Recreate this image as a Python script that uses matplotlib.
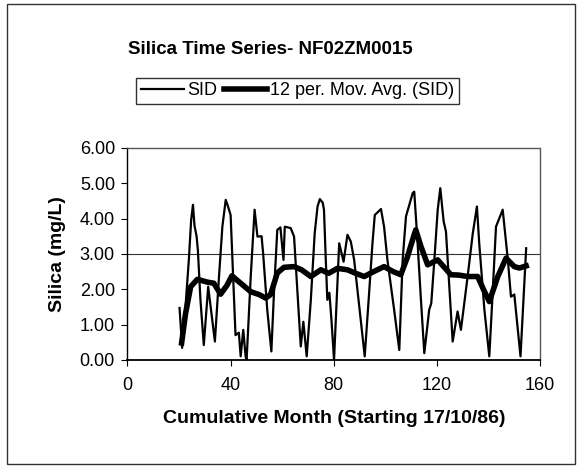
import matplotlib
matplotlib.use("Agg")
import matplotlib.pyplot as plt
from matplotlib.patches import Rectangle

plt.rcParams['font.family'] = ['Liberation Sans', 'DejaVu Sans']

# SID data (cumulative month, silica mg/L)
sid_x = [20.2, 21.2, 22.5, 23.8, 24.7, 25.4, 26.0, 26.8, 27.3, 28.3, 29.6,
         31.3, 33.9, 35.5, 36.8, 38.1, 39.0, 40.0, 41.9, 43.2, 43.9, 44.9,
         45.8, 46.2, 47.8, 49.3, 50.4, 52.0, 52.6, 54.2, 55.8, 56.8, 58.1,
         59.3, 60.5, 61.0, 63.3, 64.6, 67.2, 68.2, 69.5, 71.1, 72.6, 73.7,
         74.6, 75.7, 76.2, 76.9, 77.5, 78.3, 79.1, 80.1, 82.1, 83.8, 85.3,
         86.6, 87.9, 92.0, 93.7, 95.0, 95.9, 98.3, 99.5, 100.8, 103.4, 105.4,
         106.7, 108.0, 110.6, 111.2, 112.5, 113.8, 115.1, 117.0, 117.8, 119.0,
         120.3, 121.3, 122.6, 123.5, 126.1, 128.0, 129.3, 131.9, 133.9, 135.5,
         136.4, 138.4, 140.3, 141.6, 142.9, 145.5, 147.5, 148.7, 150.0, 152.4,
         154.6]
sid_y = [1.47, 0.34, 1.5, 2.83, 3.96, 4.39, 3.8, 3.5, 3.11, 1.7, 0.42,
         2.07, 0.52, 2.36, 3.77, 4.53, 4.34, 4.1, 0.7, 0.77, 0.1, 0.85,
         0.1, 0.0, 2.36, 4.25, 3.49, 3.5, 3.02, 1.42, 0.24, 1.89, 3.68,
         3.75, 2.83, 3.77, 3.73, 3.49, 0.38, 1.08, 0.1, 1.7, 3.58, 4.34,
         4.55, 4.45, 4.25, 2.83, 1.7, 1.9, 1.13, 0.0, 3.3, 2.78, 3.54,
         3.35, 2.83, 0.1, 1.89, 3.3, 4.1, 4.27, 3.77, 2.83, 1.42, 0.28,
         2.83, 4.06, 4.72, 4.76, 3.3, 1.7, 0.19, 1.42, 1.6, 2.83,
         4.25, 4.86, 3.92, 3.63, 0.52, 1.37, 0.85, 2.36, 3.58, 4.34,
         3.3, 1.42, 0.1, 1.89, 3.77, 4.25, 2.83, 1.79, 1.85, 0.1,
         3.16]

# 12 period moving average of SID
ma_x = [21.0, 22.5, 24.5, 27.1, 31.0, 33.5, 36.1, 38.5, 40.5, 43.9, 47.8,
        51.0, 53.6, 55.5, 58.1, 60.7, 64.6, 67.5, 71.1, 75.0, 78.0, 81.4,
        85.3, 88.5, 91.8, 95.5, 99.5, 103.0, 106.0, 108.5, 111.2, 111.8,
        113.8, 116.4, 120.3, 125.4, 128.5, 131.9, 135.8, 138.0, 140.3, 143.6,
        146.8, 150.0, 152.0, 154.6]
ma_y = [0.48, 1.3, 2.07, 2.28, 2.2, 2.17, 1.86, 2.1, 2.38, 2.17, 1.93,
        1.85, 1.75, 1.85, 2.46, 2.62, 2.64, 2.55, 2.36, 2.55, 2.45, 2.59,
        2.55, 2.45, 2.36, 2.5, 2.64, 2.5, 2.41, 2.9, 3.55, 3.68,
        3.21, 2.69, 2.83, 2.41, 2.4, 2.36, 2.36, 2.0, 1.65, 2.36,
        2.88, 2.64, 2.6, 2.66]

y_ticks = [0, 1, 2, 3, 4, 5, 6]
x_ticks = [0, 40, 80, 120, 160]

fig = plt.figure(figsize=(5.82, 4.68), dpi=100)
fig.patches.append(Rectangle((0.012, 0.008), 0.976, 0.984, transform=fig.transFigure,
                             fill=False, edgecolor='#333333', linewidth=1.0))

ax = fig.add_axes([0.219, 0.231, 0.709, 0.453])
ax.plot(sid_x, sid_y, color='black', linewidth=1.6, label='SID')
ax.plot(ma_x, ma_y, color='black', linewidth=4.0, label='12 per. Mov. Avg. (SID)')
ax.axhline(3.0, color='#333333', linewidth=0.8, zorder=0)

ax.set_xlim(0, 160)
ax.set_ylim(0, 6)
ax.set_xticks(x_ticks)
ax.set_yticks(y_ticks)
ax.set_yticklabels(['%.2f' % v for v in y_ticks])
ax.tick_params(direction='out', length=4, width=0.8, labelsize=13, pad=5)
ax.tick_params(axis='x', pad=8)

ax.spines['left'].set_linewidth(1.0)
ax.spines['bottom'].set_linestyle((0, (1, 1)))
ax.spines['bottom'].set_linewidth(1.3)
for s in ['top', 'right']:
    ax.spines[s].set_linestyle((0, (1, 1)))
    ax.spines[s].set_color('#555555')
    ax.spines[s].set_linewidth(1.0)

ax.set_ylabel('Silica (mg/L)', fontsize=14, fontweight='bold', labelpad=10)
ax.set_xlabel('Cumulative Month (Starting 17/10/86)', fontsize=14, fontweight='bold', labelpad=12)

fig.text(0.464, 0.895, 'Silica Time Series- NF02ZM0015', ha='center', va='center',
         fontsize=13.5, fontweight='bold')

fig.legend(loc='center', bbox_to_anchor=(0.511, 0.806), ncol=2, fontsize=13,
           frameon=True, fancybox=False, edgecolor='black', handlelength=2.4,
           handletextpad=0.15, columnspacing=0.4, borderpad=0.25, borderaxespad=0)

fig.savefig('out.png', dpi=100)
